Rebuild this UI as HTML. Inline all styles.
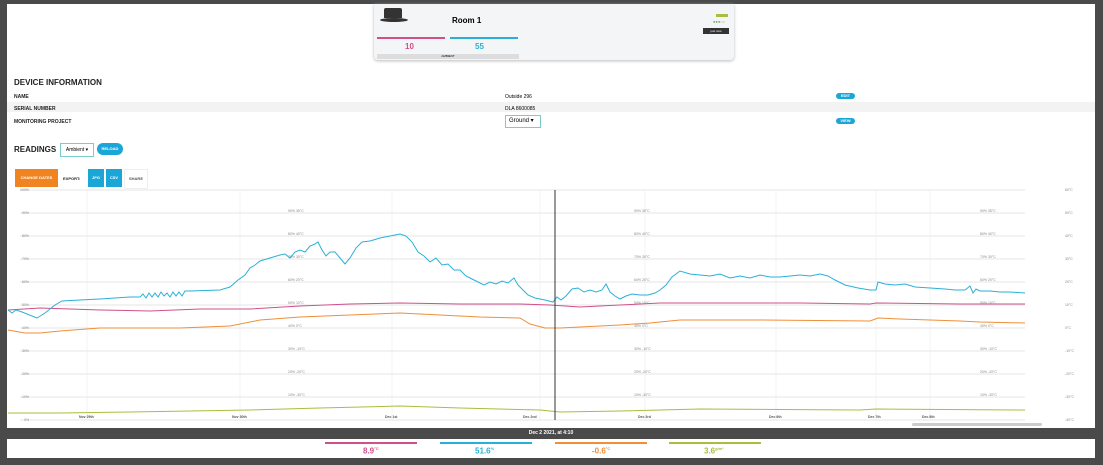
<!DOCTYPE html><html><head><meta charset="utf-8"><style>
body{margin:0;width:1103px;height:465px;overflow:hidden;font-family:"Liberation Sans",sans-serif;background:#fff;position:relative}
.a{position:absolute}
.b{font-weight:bold;font-size:5px;color:#222}
.btn{position:absolute;background:#1aa7d8;color:#fff;font-size:4px;font-weight:bold;text-align:center}
</style></head><body>
<div class="a" style="left:0;top:0;width:1103px;height:465px;background:#4a4a4a"></div>
<div class="a" style="left:7px;top:4px;width:1088px;height:424px;background:#fff"></div>
<div class="a" style="left:7px;top:439px;width:1088px;height:19px;background:#fff"></div>
<div class="a" style="left:7px;top:428px;width:1088px;height:11px;background:#4a4a4a;color:#fff;font-size:5px;font-weight:bold;text-align:center;line-height:11px">Dec 2 2021, at 4:10</div>
<!-- legend -->
<div class="a" style="left:325px;top:442px;width:92px;height:2px;background:#d0508a"></div>
<div class="a" style="left:440px;top:442px;width:92px;height:2px;background:#2ab0d8"></div>
<div class="a" style="left:555px;top:442px;width:92px;height:2px;background:#ef8f3a"></div>
<div class="a" style="left:669px;top:442px;width:92px;height:2px;background:#a8be3c"></div>
<div class="a" style="left:363px;top:446px;font-size:8px;font-weight:bold;color:#d0508a">8.9<sup style="font-size:4px">°C</sup></div>
<div class="a" style="left:475px;top:446px;font-size:8px;font-weight:bold;color:#2ab0d8">51.6<sup style="font-size:4px">%</sup></div>
<div class="a" style="left:592px;top:446px;font-size:8px;font-weight:bold;color:#ef8f3a">-0.6<sup style="font-size:4px">°C</sup></div>
<div class="a" style="left:704px;top:446px;font-size:8px;font-weight:bold;color:#a8be3c">3.6<sup style="font-size:4px">g/m³</sup></div>
<!-- top card -->
<div class="a" style="left:374px;top:4px;width:360px;height:56px;background:#f3f5f7;border-radius:0 0 4px 4px;box-shadow:0 1px 3px #bbb"></div>
<div class="a" style="left:384px;top:8px;width:18px;height:10px;background:#333;border-radius:2px 2px 0 0"></div>
<div class="a" style="left:380px;top:18px;width:28px;height:4px;background:#333;border-radius:50%"></div>
<div class="a" style="left:452px;top:16px;font-size:8px;font-weight:bold">Room 1</div>
<div class="a" style="left:716px;top:14px;width:12px;height:3px;background:#a8be3c"></div>
<div class="a" style="left:713px;top:19px;font-size:4px;color:#6a6">●●●○○</div>
<div class="a" style="left:703px;top:28px;width:26px;height:6px;background:#333;color:#fff;font-size:3px;text-align:center;line-height:6px">just now</div>
<div class="a" style="left:377px;top:37px;width:68px;height:1.5px;background:#d0508a"></div>
<div class="a" style="left:450px;top:37px;width:68px;height:1.5px;background:#2ab0d8"></div>
<div class="a" style="left:405px;top:42px;font-size:8px;font-weight:bold;color:#d0508a">10</div>
<div class="a" style="left:475px;top:42px;font-size:8px;font-weight:bold;color:#2ab0d8">55</div>
<div class="a" style="left:377px;top:54px;width:142px;height:5px;background:#ddd;font-size:3px;text-align:center;line-height:5px">AMBIENT</div>
<!-- device info -->
<div class="a" style="left:14px;top:78px;font-size:8px;font-weight:bold;color:#222">DEVICE INFORMATION</div>
<div class="a" style="left:7px;top:102px;width:1088px;height:10px;background:#f3f3f3"></div>
<div class="a b" style="left:14px;top:94px">NAME</div>
<div class="a b" style="left:14px;top:106px">SERIAL NUMBER</div>
<div class="a b" style="left:14px;top:119px">MONITORING PROJECT</div>
<div class="a" style="left:505px;top:94px;font-size:5px">Outside 296</div>
<div class="a" style="left:505px;top:106px;font-size:5px">DLA 8600085</div>
<div class="a" style="left:505px;top:115px;width:34px;height:11px;border:1px solid #7cc;font-size:6px;line-height:11px;text-indent:3px">Ground ▾</div>
<div class="btn" style="left:836px;top:93px;width:19px;height:6px;border-radius:3px;line-height:6px">EDIT</div>
<div class="btn" style="left:836px;top:118px;width:19px;height:6px;border-radius:3px;line-height:6px">VIEW</div>
<div class="a" style="left:14px;top:145px;font-size:8px;font-weight:bold;color:#222">READINGS</div>
<div class="a" style="left:60px;top:143px;width:32px;height:12px;border:1px solid #7cc;font-size:5px;line-height:12px;text-align:center">Ambient ▾</div>
<div class="btn" style="left:97px;top:143px;width:26px;height:12px;border-radius:6px;line-height:12px">RELOAD</div>
<div class="a" style="left:15px;top:169px;width:43px;height:18px;background:#ef8420;color:#fff;font-size:4px;font-weight:bold;text-align:center;line-height:18px">CHANGE DATES</div>
<div class="a b" style="left:63px;top:176px;font-size:4px">EXPORT:</div>
<div class="btn" style="left:88px;top:169px;width:16px;height:18px;line-height:18px">JPG</div>
<div class="btn" style="left:106px;top:169px;width:16px;height:18px;line-height:18px">CSV</div>
<div class="a" style="left:124px;top:169px;width:22px;height:18px;border:1px solid #eee;font-size:4px;font-weight:bold;color:#555;text-align:center;line-height:18px">SHARE</div>
<svg class="a" style="left:0;top:0" width="1103" height="465" font-family="Liberation Sans" font-size="3.5" fill="#888">
<g stroke="#ddd" stroke-width="0.7">
<line x1="20" y1="190" x2="1025" y2="190"/><line x1="20" y1="213" x2="1025" y2="213"/><line x1="20" y1="236" x2="1025" y2="236"/><line x1="20" y1="259" x2="1025" y2="259"/><line x1="20" y1="282" x2="1025" y2="282"/><line x1="20" y1="305" x2="1025" y2="305"/><line x1="20" y1="328" x2="1025" y2="328"/><line x1="20" y1="351" x2="1025" y2="351"/><line x1="20" y1="374" x2="1025" y2="374"/><line x1="20" y1="397" x2="1025" y2="397"/><line x1="20" y1="420" x2="1025" y2="420"/>
</g>
<g stroke="#eee" stroke-width="0.7">
<line x1="87" y1="190" x2="87" y2="420"/><line x1="240" y1="190" x2="240" y2="420"/><line x1="392" y1="190" x2="392" y2="420"/><line x1="540" y1="190" x2="540" y2="420"/><line x1="645" y1="190" x2="645" y2="420"/><line x1="776" y1="190" x2="776" y2="420"/><line x1="876" y1="190" x2="876" y2="420"/><line x1="930" y1="190" x2="930" y2="420"/>
</g>
<g>
<text x="20" y="191">100%</text><text x="22" y="214">90%</text><text x="22" y="237">80%</text><text x="22" y="260">70%</text><text x="22" y="283">60%</text><text x="22" y="306">50%</text><text x="22" y="329">40%</text><text x="22" y="352">30%</text><text x="22" y="375">20%</text><text x="22" y="398">10%</text><text x="24" y="421">0%</text>
<text x="1065" y="191">60°C</text><text x="1065" y="214">50°C</text><text x="1065" y="237">40°C</text><text x="1065" y="260">30°C</text><text x="1065" y="283">20°C</text><text x="1065" y="306">10°C</text><text x="1065" y="329">0°C</text><text x="1065" y="352">-10°C</text><text x="1065" y="375">-20°C</text><text x="1065" y="398">-30°C</text><text x="1065" y="421">-40°C</text>
</g>
<g>
<text x="288" y="212">90% 35°C</text><text x="288" y="235">80% 40°C</text><text x="288" y="258">70% 30°C</text><text x="288" y="281">60% 20°C</text><text x="288" y="304">50% 10°C</text><text x="288" y="327">40% 0°C</text><text x="288" y="350">30% -10°C</text><text x="288" y="373">20% -20°C</text><text x="288" y="396">10% -30°C</text>
<text x="634" y="212">90% 35°C</text><text x="634" y="235">80% 40°C</text><text x="634" y="258">70% 30°C</text><text x="634" y="281">60% 20°C</text><text x="634" y="304">50% 10°C</text><text x="634" y="327">40% 0°C</text><text x="634" y="350">30% -10°C</text><text x="634" y="373">20% -20°C</text><text x="634" y="396">10% -30°C</text>
<text x="980" y="212">90% 35°C</text><text x="980" y="235">80% 40°C</text><text x="980" y="258">70% 30°C</text><text x="980" y="281">60% 20°C</text><text x="980" y="304">50% 10°C</text><text x="980" y="327">40% 0°C</text><text x="980" y="350">30% -10°C</text><text x="980" y="373">20% -20°C</text><text x="980" y="396">10% -30°C</text>
</g>
<g fill="#555" font-weight="bold"><text x="79" y="418">Nov 29th</text><text x="232" y="418">Nov 30th</text><text x="385" y="418">Dec 1st</text><text x="523" y="418">Dec 2nd</text><text x="638" y="418">Dec 3rd</text><text x="769" y="418">Dec 6th</text><text x="868" y="418">Dec 7th</text><text x="922" y="418">Dec 8th</text></g>
<rect x="912" y="423" width="130" height="3" rx="1.5" fill="#ccc"/>
<polyline fill="none" stroke="#a8be3c" stroke-width="1" points="8,413 60,413 130,412 250,410 320,408 400,406 460,408 540,410 560,412 620,411 700,409 860,410 876,409 1025,410"/>
<polyline fill="none" stroke="#ef8f3a" stroke-width="1" points="8,330 25,333 40,333 60,331 100,328 180,328 230,326 260,320 300,317 350,315 400,313 440,315 480,317 520,318 530,324 545,328 560,328 580,327 620,325 650,323 680,320 760,320 870,321 878,318 900,319 960,321 980,322 1025,323"/>
<polyline fill="none" stroke="#d0508a" stroke-width="1" points="8,310 40,308 100,310 150,311 200,309 250,309 300,306 350,304 400,303 460,304 520,304 550,305 580,307 620,305 660,303 700,303 800,303 870,304 876,303 960,304 1025,304"/>
<polyline fill="none" stroke="#2ab0d8" stroke-width="1" points="8,310 12,313 16,310 22,312 37,318 45,313 55,305 62,301 80,300 100,299 130,297 140,297 143,294 146,298 149,293 152,297 155,293 158,297 161,292 164,296 167,293 170,297 173,292 176,296 179,292 182,296 185,291 190,291 220,290 230,287 238,280 245,275 250,268 255,265 260,261 270,258 280,255 285,254 290,258 295,252 300,250 305,252 310,246 315,244 318,242 322,250 326,256 330,252 335,252 340,258 345,264 350,258 356,248 362,242 370,241 380,238 390,236 400,234 406,236 412,242 418,252 424,256 430,262 436,258 442,265 448,264 454,270 460,270 466,276 472,279 478,282 484,285 490,282 496,284 502,281 508,283 514,278 518,285 523,290 528,295 535,298 545,300 553,302 557,297 561,300 566,296 572,289 578,288 584,292 590,290 596,292 602,290 606,284 610,292 615,296 620,299 626,296 632,294 640,295 648,295 655,293 660,290 666,285 672,277 680,271 690,274 700,275 710,276 720,274 730,278 740,276 750,278 760,275 770,277 780,277 790,276 800,275 810,276 820,274 828,276 835,280 845,285 858,288 870,290 876,290 878,282 885,284 895,285 905,284 915,287 930,288 945,289 955,290 965,290 970,286 973,293 976,289 980,291 990,291 1000,292 1010,292 1025,293"/>
<line x1="555" y1="190" x2="555" y2="420" stroke="#333" stroke-width="1"/>
</svg>
</body></html>
